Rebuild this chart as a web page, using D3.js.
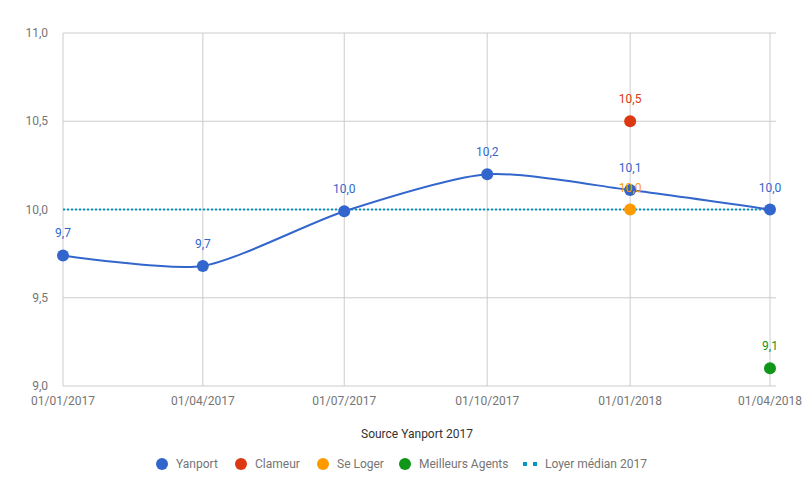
<!DOCTYPE html>
<html>
<head>
<meta charset="utf-8">
<script src="https://cdnjs.cloudflare.com/ajax/libs/d3/7.8.5/d3.min.js"></script>
<style>
  body { margin: 0; background: #fff; }
  text { font-family: Roboto, "Noto Sans", sans-serif; }
</style>
</head>
<body>
<svg id="canvas"></svg>
<script>
var w = 805
var h = 497

// ########## Data ##########
var dates = ["2017-01-01", "2017-04-01", "2017-07-01", "2017-10-01", "2018-01-01", "2018-04-01"];
var tickLabels = ["01/01/2017", "01/04/2017", "01/07/2017", "01/10/2017", "01/01/2018", "01/04/2018"];
var yanport = [9.74, 9.68, 9.99, 10.2, 10.11, 10.0];
var clameur = [{ date: "2018-01-01", value: 10.5 }];
var seLoger = [{ date: "2018-01-01", value: 10.0 }];
var meilleursAgents = [{ date: "2018-04-01", value: 9.1 }];
var loyerMedian = 10.0;
var yTicks = [9.0, 9.5, 10.0, 10.5, 11.0];
var legendNames = ["Yanport", "Clameur", "Se Loger", "Meilleurs Agents", "Loyer médian 2017"];
var colors = ["#3366cc", "#dc3912", "#ff9900", "#109618", "#0099c6"];

var parse = d3.timeParse("%Y-%m-%d");
var fmt = function (v) { return d3.format(".1f")(v).replace(".", ","); };

// ########## SVG ##########
var svg = d3.select("#canvas")
    .attr("width", w)
    .attr("height", h);

var x = d3.scaleTime()
    .domain([parse(dates[0]), parse(dates[dates.length - 1])])
    .range([63, 770]);

var y = d3.scaleLinear()
    .domain([9, 11])
    .range([386, 33]);

// ########## Grid ##########
svg.append("g").selectAll("line")
    .data(yTicks).enter()
    .append("line")
    .attr("x1", 63).attr("x2", 776)
    .attr("y1", function (d) { return y(d); })
    .attr("y2", function (d) { return y(d); })
    .attr("stroke", "#cccccc").attr("stroke-width", 1);

svg.append("g").selectAll("line")
    .data(dates).enter()
    .append("line")
    .attr("x1", function (d) { return x(parse(d)); })
    .attr("x2", function (d) { return x(parse(d)); })
    .attr("y1", 33).attr("y2", 386)
    .attr("stroke", "#cccccc").attr("stroke-width", 1);

// ########## Axes labels ##########
svg.append("g").selectAll("text")
    .data(yTicks).enter()
    .append("text")
    .attr("x", 48)
    .attr("y", function (d) { return y(d) + 4; })
    .attr("text-anchor", "end")
    .attr("font-size", 12)
    .attr("fill", "#757575")
    .text(fmt);

svg.append("g").selectAll("text")
    .data(dates).enter()
    .append("text")
    .attr("x", function (d) { return x(parse(d)); })
    .attr("y", 405)
    .attr("text-anchor", "middle")
    .attr("font-size", 12)
    .attr("fill", "#757575")
    .text(function (d, i) { return tickLabels[i]; });

svg.append("text")
    .attr("x", 417).attr("y", 438)
    .attr("text-anchor", "middle")
    .attr("font-size", 12)
    .attr("fill", "#333333")
    .text("Source Yanport 2017");

// ########## Median line ##########
svg.append("line")
    .attr("x1", x(parse(dates[0]))).attr("x2", x(parse(dates[dates.length - 1])))
    .attr("y1", y(loyerMedian)).attr("y2", y(loyerMedian))
    .attr("stroke", colors[4]).attr("stroke-width", 2)
    .attr("stroke-dasharray", "2,2");

// ########## Yanport line ##########
var yData = dates.map(function (d, i) { return { date: parse(d), value: yanport[i] }; });

var line = d3.line()
    .x(function (d) { return x(d.date); })
    .y(function (d) { return y(d.value); })
    .curve(d3.curveCardinal.tension(0.3));

svg.append("path")
    .datum(yData)
    .attr("d", line)
    .attr("fill", "none")
    .attr("stroke", colors[0])
    .attr("stroke-width", 2);

function drawPoints(data, color) {
    var g = svg.append("g");
    g.selectAll("circle")
        .data(data).enter()
        .append("circle")
        .attr("cx", function (d) { return x(d.date); })
        .attr("cy", function (d) { return y(d.value); })
        .attr("r", 6)
        .attr("fill", color);
    g.selectAll("text")
        .data(data).enter()
        .append("text")
        .attr("x", function (d) { return x(d.date); })
        .attr("y", function (d) { return y(d.value) - 18; })
        .attr("text-anchor", "middle")
        .attr("font-size", 12)
        .attr("fill", color)
        .text(function (d) { return fmt(d.value); });
}

function toPts(arr) { return arr.map(function (d) { return { date: parse(d.date), value: d.value }; }); }

drawPoints(yData, colors[0]);
drawPoints(toPts(clameur), colors[1]);
drawPoints(toPts(seLoger), colors[2]);
drawPoints(toPts(meilleursAgents), colors[3]);

// ########## Legend ##########
var legendX = [162, 241, 323, 405, 523];
var legend = svg.append("g");
legendNames.forEach(function (name, i) {
    if (i < 4) {
        legend.append("circle")
            .attr("cx", legendX[i]).attr("cy", 464).attr("r", 6)
            .attr("fill", colors[i]);
        legend.append("text")
            .attr("x", legendX[i] + 14).attr("y", 468)
            .attr("font-size", 12).attr("fill", "#757575")
            .text(name);
    } else {
        legend.append("line")
            .attr("x1", legendX[i]).attr("x2", legendX[i] + 14)
            .attr("y1", 464).attr("y2", 464)
            .attr("stroke", colors[i]).attr("stroke-width", 4)
            .attr("stroke-dasharray", "4,6");
        legend.append("text")
            .attr("x", legendX[i] + 22).attr("y", 468)
            .attr("font-size", 12).attr("fill", "#757575")
            .text(name);
    }
});
</script>
</body>
</html>
